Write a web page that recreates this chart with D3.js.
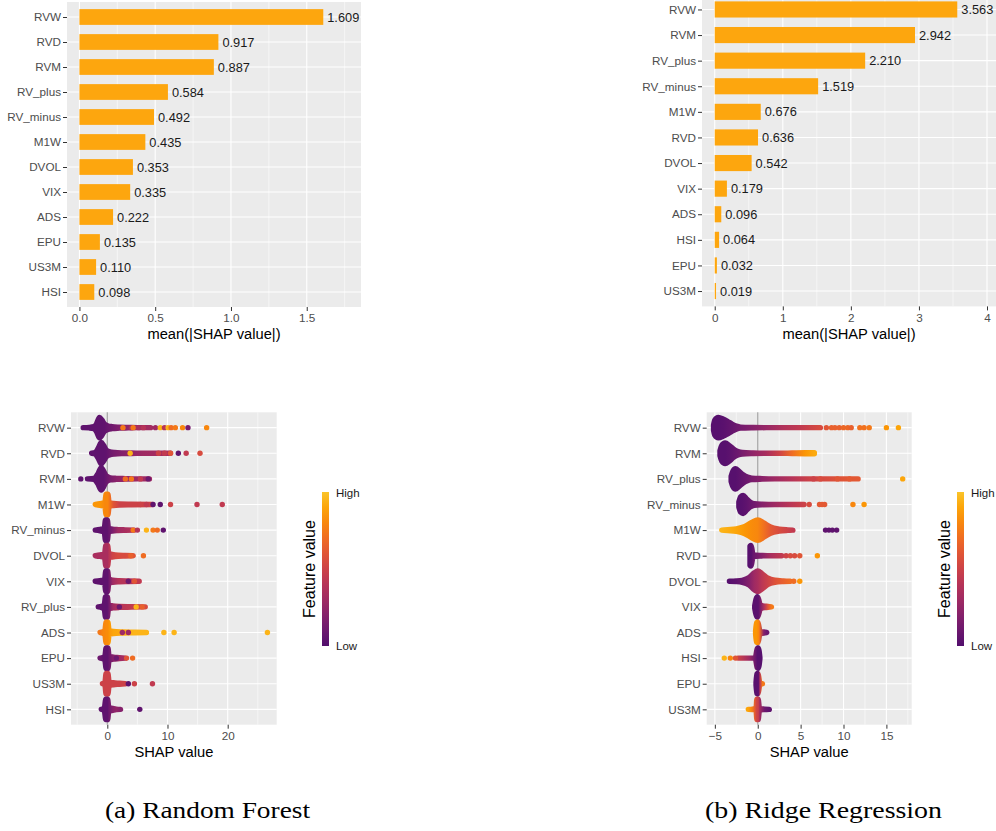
<!DOCTYPE html>
<html>
<head>
<meta charset="utf-8">
<script src="https://cdn.jsdelivr.net/npm/d3@7"></script>
<style>
  body { margin: 0; background: #fff; }
  text { font-family: "Liberation Sans", Arial, sans-serif; }
</style>
</head>
<body>
<svg id="fig" width="996" height="831"></svg>
<script>
// ---- mean |SHAP| bars ----
const rfBarFeatures = ["RVW", "RVD", "RVM", "RV_plus", "RV_minus", "M1W", "DVOL", "VIX", "ADS", "EPU", "US3M", "HSI"];
const rfBarValues = [1.609, 0.917, 0.887, 0.584, 0.492, 0.435, 0.353, 0.335, 0.222, 0.135, 0.110, 0.098];
const rgBarFeatures = ["RVW", "RVM", "RV_plus", "RV_minus", "M1W", "RVD", "DVOL", "VIX", "ADS", "HSI", "EPU", "US3M"];
const rgBarValues = [3.563, 2.942, 2.210, 1.519, 0.676, 0.636, 0.542, 0.179, 0.096, 0.064, 0.032, 0.019];

// ---- beeswarm: dense part as [shap, density, feature value 0..1], loose points as [shap, feature value] ----
const rfSwarmFeatures = ["RVW", "RVD", "RVM", "M1W", "RV_minus", "DVOL", "VIX", "RV_plus", "ADS", "EPU", "US3M", "HSI"];
const rfSwarmDense = [
  [[-4.0,0,0.05],[-3.0,0.01,0.05],[-2.2,0.04,0.05],[-1.8,0.15,0.05],[-1.3,0.4,0.05],[-0.9,0.3,0.05],[-0.5,0.15,0.06],[0.0,0.08,0.08],[0.8,0.04,0.12],[2.0,0.02,0.18],[3.5,0.01,0.25],[5.0,0,0.3],[7.2,0,0.32]],
  [[-2.6,0,0.05],[-2.0,0.03,0.05],[-1.5,0.2,0.05],[-1.0,0.42,0.05],[-0.6,0.3,0.05],[-0.2,0.14,0.06],[0.4,0.06,0.1],[1.2,0.03,0.15],[2.5,0.015,0.2],[4.0,0.01,0.25],[6.0,0,0.3],[10.5,0,0.35]],
  [[-3.3,0,0.05],[-2.2,0.02,0.05],[-1.6,0.18,0.05],[-1.0,0.44,0.05],[-0.6,0.3,0.05],[-0.2,0.12,0.08],[0.5,0.04,0.15],[1.5,0.02,0.22],[3.0,0.01,0.28],[5.0,0,0.3],[7.0,0,0.3]],
  [[-2.0,0,0.85],[-1.2,0.03,0.85],[-0.4,0.08,0.8],[-0.2,0.4,0.8],[0.1,0.4,0.8],[0.3,0.08,0.75],[1.0,0.04,0.6],[2.0,0.02,0.5],[4.0,0.01,0.5],[7.5,0,0.5]],
  [[-2.0,0,0.05],[-1.2,0.03,0.05],[-0.5,0.08,0.05],[-0.3,0.4,0.05],[0.0,0.4,0.05],[0.2,0.08,0.08],[0.8,0.04,0.15],[1.8,0.02,0.3],[3.0,0.01,0.35],[4.5,0,0.4]],
  [[-2.0,0,0.35],[-1.2,0.03,0.35],[-0.45,0.08,0.35],[-0.25,0.4,0.35],[0.05,0.4,0.35],[0.25,0.08,0.4],[0.8,0.05,0.5],[1.8,0.02,0.55],[3.0,0.01,0.55],[4.3,0,0.6]],
  [[-2.0,0,0.05],[-1.2,0.03,0.05],[-0.45,0.08,0.05],[-0.25,0.4,0.05],[0.05,0.4,0.05],[0.25,0.08,0.1],[0.9,0.04,0.3],[2.0,0.02,0.4],[3.5,0.01,0.4],[5.3,0,0.45]],
  [[-1.5,0,0.05],[-0.9,0.03,0.05],[-0.5,0.08,0.05],[-0.3,0.4,0.05],[0.0,0.4,0.05],[0.2,0.08,0.1],[0.9,0.04,0.3],[2.0,0.02,0.4],[4.0,0.01,0.45],[6.3,0,0.55]],
  [[-1.2,0,0.75],[-0.7,0.03,0.8],[-0.4,0.08,0.8],[-0.2,0.4,0.82],[0.1,0.4,0.82],[0.3,0.08,0.85],[1.0,0.04,0.9],[2.5,0.02,0.92],[4.5,0.01,0.95],[6.5,0,0.95]],
  [[-1.2,0,0.1],[-0.7,0.03,0.05],[-0.4,0.08,0.05],[-0.2,0.4,0.05],[0.1,0.4,0.05],[0.3,0.08,0.1],[1.0,0.04,0.2],[2.0,0.02,0.3],[3.0,0,0.35]],
  [[-0.8,0,0.5],[-0.4,0.05,0.5],[-0.2,0.4,0.5],[0.1,0.4,0.5],[0.3,0.08,0.5],[1.0,0.04,0.5],[2.0,0.02,0.5],[3.0,0,0.5]],
  [[-1.0,0,0.05],[-0.5,0.04,0.05],[-0.25,0.4,0.05],[0.05,0.4,0.05],[0.25,0.08,0.1],[0.9,0.04,0.2],[1.5,0.01,0.25],[2.2,0,0.2]]
];
const rfSwarmPoints = [
  [[2.6,0.75],[4.0,0.35],[4.3,0.75],[5.2,0.35],[6.0,0.4],[8.0,0.3],[8.8,0.95],[9.5,0.4],[10.1,0.95],[10.6,0.7],[11.3,0.75],[12.5,0.8],[13.4,0.15],[16.5,0.8]],
  [[3.8,0.95],[8.5,0.5],[9.5,0.45],[10.5,0.6],[11.8,0.05],[13.1,0.45],[15.4,0.55]],
  [[-4.4,0.05],[3.0,0.7],[4.0,0.75],[5.5,0.45],[6.8,0.1]],
  [[5.5,0.5],[6.5,0.45],[7.6,0.05],[8.8,0.05],[10.5,0.5],[14.9,0.45],[19.1,0.45]],
  [[4.3,0.75],[5.0,0.4],[6.5,0.95],[7.6,0.75],[8.3,0.7],[9.3,0.05]],
  [[3.9,0.65],[6.0,0.7]],
  [[3.5,0.1],[4.5,0.6]],
  [[2.0,0.1],[4.8,0.95],[5.8,0.65]],
  [[2.5,0.3],[3.5,0.3],[9.4,0.95],[11.1,0.95],[26.6,0.95]],
  [[1.5,0.1],[3.2,0.6],[4.2,0.7]],
  [[3.5,0.05],[4.5,0.5],[7.5,0.45]],
  [[5.4,0.05]]
];

const rgSwarmFeatures = ["RVW", "RVM", "RV_plus", "RV_minus", "M1W", "RVD", "DVOL", "VIX", "ADS", "HSI", "EPU", "US3M"];
const rgSwarmDense = [
  [[-5.15,0.1,0.02],[-5.0,0.3,0.02],[-4.6,0.4,0.02],[-4.0,0.33,0.03],[-3.5,0.24,0.05],[-3.0,0.14,0.07],[-2.5,0.06,0.1],[-2.0,0.02,0.13],[-0.5,0.005,0.2],[1.0,0,0.28],[3.0,0,0.38],[5.0,0,0.45],[7.3,0,0.55]],
  [[-4.4,0.1,0.02],[-4.2,0.3,0.02],[-3.8,0.4,0.02],[-3.3,0.3,0.04],[-2.8,0.16,0.07],[-2.3,0.07,0.1],[-1.8,0.03,0.15],[-0.5,0.01,0.25],[1.0,0,0.35],[2.5,0,0.5],[4.0,0.01,0.7],[5.5,0.02,0.85],[6.6,0.02,0.92]],
  [[-3.1,0.1,0.02],[-2.9,0.3,0.02],[-2.6,0.4,0.02],[-2.2,0.3,0.04],[-1.7,0.16,0.07],[-1.2,0.07,0.1],[-0.7,0.03,0.15],[0.5,0.01,0.22],[2.0,0,0.3],[4.0,0,0.4],[6.0,0,0.5],[8.0,0,0.55],[10.0,0,0.6],[11.7,0,0.62]],
  [[-2.2,0.1,0.02],[-2.0,0.3,0.02],[-1.7,0.35,0.03],[-1.3,0.22,0.05],[-0.9,0.1,0.08],[-0.4,0.03,0.12],[0.5,0.01,0.2],[2.0,0,0.3],[4.0,0,0.42],[5.4,0,0.5]],
  [[-4.2,0,0.95],[-3.5,0.02,0.93],[-2.5,0.05,0.9],[-1.5,0.14,0.85],[-0.7,0.3,0.82],[0.0,0.4,0.8],[0.7,0.28,0.72],[1.5,0.12,0.62],[2.5,0.04,0.55],[3.5,0.01,0.5],[4.1,0,0.45]],
  [[-0.9,0.38,0.02],[-0.8,0.4,0.02],[-0.7,0.3,0.03],[-0.55,0.03,0.08],[0.5,0.01,0.2],[1.5,0,0.35],[2.8,0,0.45]],
  [[-3.3,0,0.02],[-2.5,0.01,0.05],[-1.8,0.04,0.1],[-1.0,0.15,0.2],[-0.4,0.33,0.3],[0.0,0.4,0.35],[0.5,0.3,0.42],[1.2,0.12,0.5],[2.0,0.04,0.58],[3.0,0.01,0.65],[3.8,0,0.7]],
  [[-0.35,0.05,0.03],[-0.2,0.3,0.03],[-0.05,0.4,0.03],[0.1,0.3,0.05],[0.3,0.08,0.15],[0.8,0.03,0.4],[1.2,0.02,0.6],[1.6,0,0.75]],
  [[-0.25,0.05,0.85],[-0.15,0.38,0.85],[0.0,0.4,0.82],[0.1,0.3,0.8],[0.25,0.05,0.7],[0.7,0.02,0.2],[1.05,0,0.1]],
  [[-2.3,0,0.5],[-1.0,0,0.3],[-0.3,0,0.1],[-0.05,0.38,0.02],[0.05,0.4,0.02],[0.15,0.3,0.02],[0.25,0.03,0.02]],
  [[-0.2,0.05,0.03],[-0.1,0.38,0.03],[0.0,0.4,0.03],[0.1,0.3,0.05],[0.25,0.02,0.4],[0.55,0,0.75]],
  [[-1.1,0,0.9],[-0.6,0.01,0.75],[-0.2,0.03,0.55],[-0.1,0.4,0.5],[0.05,0.4,0.5],[0.2,0.03,0.35],[0.8,0.01,0.1],[1.35,0,0.05]]
];
const rgSwarmPoints = [
  [[8.0,0.6],[8.6,0.65],[9.0,0.65],[9.5,0.65],[10.0,0.68],[10.5,0.68],[10.9,0.65],[11.9,0.72],[12.4,0.72],[13.0,0.75],[15.0,0.85],[16.4,0.9]],
  [],
  [[6.5,0.5],[7.3,0.55],[9.3,0.6],[10.7,0.62],[16.9,0.9]],
  [[6.0,0.55],[7.2,0.62],[7.5,0.62],[7.8,0.62],[11.1,0.8],[12.4,0.85]],
  [[7.9,0.05],[8.3,0.05],[8.7,0.05],[9.2,0.05]],
  [[3.3,0.5],[3.8,0.55],[4.3,0.55],[4.9,0.6],[6.95,0.85]],
  [[4.2,0.7],[4.9,0.85]],
  [],
  [],
  [[-2.6,0.6],[-3.2,0.8],[-3.9,0.95]],
  [],
  []
];

const captions = ["(a) Random Forest", "(b) Ridge Regression"];

// ---- drawing ----
const svg = d3.select("#fig");
const defs = svg.append("defs");
const colorOf = t => d3.interpolateInferno(0.24 + 0.62 * t);
const dotR = 2.7;

function panelBase(cfg, features) {
  const x = d3.scaleLinear().domain(cfg.domain).range([cfg.left, cfg.right]);
  const y = d3.scalePoint().domain(features).range([cfg.top, cfg.bottom]).padding(0.6);
  const g = svg.append("g");

  g.append("rect")
    .attr("x", cfg.left).attr("y", cfg.top)
    .attr("width", cfg.right - cfg.left).attr("height", cfg.bottom - cfg.top)
    .attr("fill", "#EBEBEB");

  // grid
  g.selectAll(".minor").data(cfg.minor).join("line")
    .attr("x1", d => x(d)).attr("x2", d => x(d))
    .attr("y1", cfg.top).attr("y2", cfg.bottom)
    .attr("stroke", "#fff").attr("stroke-width", 0.55);
  g.selectAll(".major").data(cfg.ticks).join("line")
    .attr("x1", d => x(d)).attr("x2", d => x(d))
    .attr("y1", cfg.top).attr("y2", cfg.bottom)
    .attr("stroke", "#fff").attr("stroke-width", 1.1);
  g.selectAll(".hgrid").data(features).join("line")
    .attr("x1", cfg.left).attr("x2", cfg.right)
    .attr("y1", d => y(d)).attr("y2", d => y(d))
    .attr("stroke", "#fff").attr("stroke-width", 1.1);

  // axes
  const xAxisG = g.append("g")
    .attr("transform", `translate(0,${cfg.bottom})`)
    .call(d3.axisBottom(x).tickValues(cfg.ticks).tickFormat(cfg.fmt).tickSize(4).tickPadding(3));
  const yAxisG = g.append("g")
    .attr("transform", `translate(${cfg.left},0)`)
    .call(d3.axisLeft(y).tickSize(4).tickPadding(2));
  [xAxisG, yAxisG].forEach(a => {
    a.select(".domain").remove();
    a.selectAll("line").attr("stroke", "#333");
    a.selectAll("text").attr("fill", "#4D4D4D").style("font-size", "11.7px")
      .style("font-family", '"Liberation Sans", Arial, sans-serif');
  });

  g.append("text")
    .attr("x", (cfg.left + cfg.right) / 2).attr("y", cfg.titleY)
    .attr("text-anchor", "middle").attr("dominant-baseline", "central")
    .style("font-size", "14.7px").attr("fill", "#000")
    .text(cfg.title);

  return { x, y, g };
}

function drawBars(cfg, features, values) {
  const { x, y, g } = panelBase(cfg, features);
  const h = y.step() * 0.63;
  const rows = features.map((f, i) => ({ f, v: values[i] }));
  g.selectAll(".bar").data(rows).join("rect")
    .attr("x", x(0)).attr("y", d => y(d.f) - h / 2)
    .attr("width", d => x(d.v) - x(0)).attr("height", h)
    .attr("fill", "#FDA60E");
  g.selectAll(".val").data(rows).join("text")
    .attr("x", d => x(d.v) + 4).attr("y", d => y(d.f))
    .attr("dominant-baseline", "central")
    .style("font-size", "12.8px").attr("fill", "#1a1a1a")
    .text(d => d3.format(".3f")(d.v));
}

function drawSwarm(cfg, features, dense, points) {
  const { x, y, g } = panelBase(cfg, features);
  const step = y.step();

  g.append("line")
    .attr("x1", x(0)).attr("x2", x(0))
    .attr("y1", cfg.top).attr("y2", cfg.bottom)
    .attr("stroke", "#a8a8a8").attr("stroke-width", 1.3);

  features.forEach((f, i) => {
    const cy = y(f);
    const prof = dense[i];
    const lo = d3.min(prof, d => d[0]), hi = d3.max(prof, d => d[0]);
    const id = `${cfg.id}-grad-${i}`;
    const grad = defs.append("linearGradient").attr("id", id)
      .attr("gradientUnits", "userSpaceOnUse")
      .attr("x1", x(lo)).attr("x2", x(hi)).attr("y1", 0).attr("y2", 0);
    grad.selectAll("stop").data(prof).join("stop")
      .attr("offset", d => (d[0] - lo) / (hi - lo))
      .attr("stop-color", d => colorOf(d[2]));

    const area = d3.area()
      .x(d => x(d[0]))
      .y0(d => cy - d[1] * step)
      .y1(d => cy + d[1] * step)
      .curve(d3.curveMonotoneX);

    g.append("path").datum(prof)
      .attr("d", area)
      .attr("fill", `url(#${id})`)
      .attr("stroke", `url(#${id})`)
      .attr("stroke-width", dotR * 2)
      .attr("stroke-linejoin", "round")
      .attr("stroke-linecap", "round");

    g.selectAll(null).data(points[i]).join("circle")
      .attr("cx", d => x(d[0])).attr("cy", cy).attr("r", dotR)
      .attr("fill", d => colorOf(d[1]));
  });

  // legend
  const lg = svg.append("g");
  const lid = `${cfg.id}-legend`;
  const lgrad = defs.append("linearGradient").attr("id", lid)
    .attr("x1", 0).attr("x2", 0).attr("y1", 1).attr("y2", 0);
  lgrad.selectAll("stop").data(d3.range(0, 1.0001, 0.1)).join("stop")
    .attr("offset", d => d).attr("stop-color", d => colorOf(d));
  const L = cfg.legend;
  lg.append("rect")
    .attr("x", L.x).attr("y", L.top).attr("width", 7).attr("height", L.bottom - L.top)
    .attr("fill", `url(#${lid})`);
  lg.append("text").attr("x", L.x + 14).attr("y", L.top + 1)
    .attr("dominant-baseline", "central").style("font-size", "11.5px").attr("fill", "#1a1a1a")
    .text("High");
  lg.append("text").attr("x", L.x + 14).attr("y", L.bottom)
    .attr("dominant-baseline", "central").style("font-size", "11.5px").attr("fill", "#1a1a1a")
    .text("Low");
  lg.append("text")
    .attr("transform", `translate(${L.titleX},${(L.top + L.bottom) / 2}) rotate(-90)`)
    .attr("text-anchor", "middle").attr("dominant-baseline", "central")
    .style("font-size", "16px").attr("fill", "#000")
    .text("Feature value");
}

drawBars({
  left: 67, right: 361, top: 2, bottom: 307,
  domain: [-0.082, 1.858], ticks: [0, 0.5, 1, 1.5], minor: [0.25, 0.75, 1.25, 1.75],
  fmt: d3.format(".1f"), title: "mean(|SHAP value|)", titleY: 334
}, rfBarFeatures, rfBarValues);

drawBars({
  left: 702, right: 996, top: -5.9, bottom: 306.4,
  domain: [-0.187, 4.132], ticks: [0, 1, 2, 3, 4], minor: [0.5, 1.5, 2.5, 3.5],
  fmt: d3.format("d"), title: "mean(|SHAP value|)", titleY: 334
}, rgBarFeatures, rgBarValues);

drawSwarm({
  id: "rf", left: 71, right: 276.7, top: 412.3, bottom: 724.7,
  domain: [-6.03, 28.14], ticks: [0, 10, 20], minor: [-5, 5, 15, 25],
  fmt: d3.format("d"), title: "SHAP value", titleY: 752,
  legend: { x: 322, top: 492, bottom: 646, titleX: 309 }
}, rfSwarmFeatures, rfSwarmDense, rfSwarmPoints);

drawSwarm({
  id: "rg", left: 706.7, right: 911.7, top: 412.3, bottom: 724.7,
  domain: [-5.95, 17.95], ticks: [-5, 0, 5, 10, 15], minor: [-2.5, 2.5, 7.5, 12.5, 17.5],
  fmt: d3.format("d"), title: "SHAP value", titleY: 752,
  legend: { x: 957, top: 492, bottom: 646, titleX: 944 }
}, rgSwarmFeatures, rgSwarmDense, rgSwarmPoints);

// captions
const capPos = [{ x: 105, w: 205 }, { x: 705, w: 237 }];
svg.selectAll(".cap").data(captions).join("text")
  .attr("x", (d, i) => capPos[i].x).attr("y", 818)
  .attr("textLength", (d, i) => capPos[i].w).attr("lengthAdjust", "spacingAndGlyphs")
  .style("font-family", '"Liberation Serif", "DejaVu Serif", serif')
  .style("font-size", "23px").attr("fill", "#000")
  .text(d => d);
</script>
</body>
</html>
